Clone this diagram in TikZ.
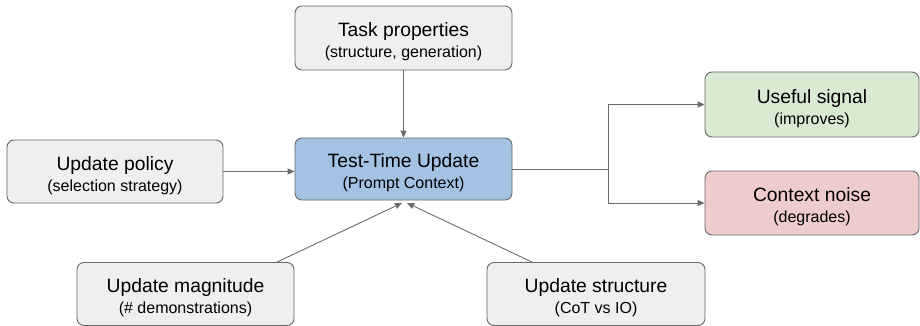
\documentclass[tikz,border=0pt]{standalone}
\usepackage{fontspec}
\setmainfont{Liberation Sans}
\usetikzlibrary{arrows.meta,positioning}
\definecolor{boxgray}{HTML}{EFEFEF}
\definecolor{boxblue}{HTML}{A4C2E4}
\definecolor{boxgreen}{HTML}{D9EAD3}
\definecolor{boxred}{HTML}{EECCCC}
\definecolor{edgegray}{HTML}{666666}
\definecolor{linegray}{HTML}{6B6B6B}
\tikzset{
  box/.style={draw=edgegray, line width=0.9pt, rounded corners=7pt, minimum width=#1, minimum height=63pt, align=center, inner sep=0pt, font=\fontsize{16}{21}\selectfont},
  box/.default=217pt,
  conn/.style={draw=linegray, line width=0.9pt, -{Triangle[length=7pt,width=6pt]}},
  plain/.style={draw=linegray, line width=0.9pt}
}
\newcommand{\twol}[2]{{\fontsize{19.3}{21}\selectfont\rule{0pt}{22pt}#1}\\[0pt]#2}
\begin{document}
\begin{tikzpicture}[x=1pt,y=-1pt]
\useasboundingbox (0,0) rectangle (920,326);
\node[box, fill=boxgray, minimum height=64pt] (task) at (403.5,38) {\twol{Task properties}{(structure, generation)}};
\node[box, fill=boxblue, minimum height=62pt] (ttu) at (403.5,169) {\twol{Test-Time Update}{(Prompt Context)}};
\node[box=216pt, fill=boxgray] (pol) at (115,171.5) {\twol{Update policy}{(selection strategy)}};
\node[box=214pt, fill=boxgreen, minimum height=65pt] (use) at (812,104.5) {\twol{Useful signal}{(improves)}};
\node[box=214pt, fill=boxred, minimum height=64pt] (noise) at (812,203) {\twol{Context noise}{(degrades)}};
\node[box=217pt, fill=boxgray] (mag) at (185.5,294) {\twol{Update magnitude}{(\# demonstrations)}};
\node[box=218pt, fill=boxgray] (str) at (596,294) {\twol{Update structure}{(CoT vs IO)}};
\coordinate (fork) at (608,169);
\draw[conn] (task) -- (ttu);
\draw[conn] (pol.east) -- (ttu.west |- pol.east);
\draw[conn] (mag.north -| 277,0) -- (402,203);
\draw[conn] (str.north -| 532,0) -- (407,203);
\draw[plain] (ttu.east) -- (fork);
\draw[conn] (fork) |- (use.west);
\draw[conn] (fork) |- (noise.west);
\end{tikzpicture}
\end{document}
